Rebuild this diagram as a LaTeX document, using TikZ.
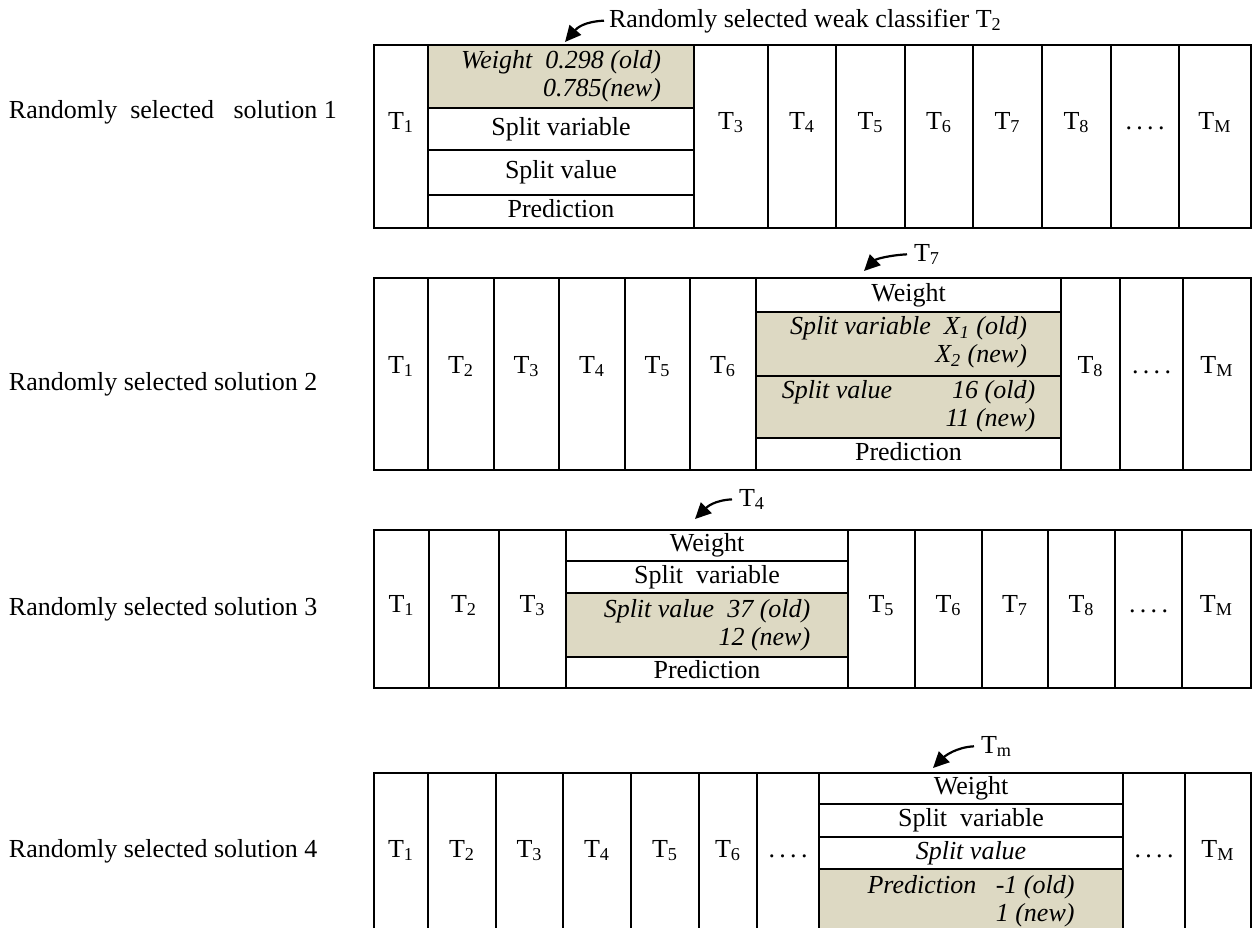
\documentclass[tikz,border=0pt]{standalone}
\usepackage{fontspec}
\setmainfont{Liberation Serif}
\usetikzlibrary{arrows.meta}
\definecolor{changed}{HTML}{DDD9C3}
\newcommand{\fourdots}{.\,.\,.\,.}

\begin{document}
\begin{tikzpicture}[x=0.5pt, y=-0.5pt, line width=1pt,
    font=\fontsize{13}{14}\selectfont]
  \useasboundingbox (0,0) rectangle (1252,928);
  \def\X{374}    % left edge of every row of trees
  \def\R{1251}   % right edge
  \tikzset{
    cell/.style={text height=9pt, text depth=3pt, inner sep=0pt},
    oldnew/.style={align=right, inner sep=0pt,
                   font=\fontsize{13}{14}\selectfont\itshape},
    solname/.style={anchor=base west, inner sep=0pt},
    pickname/.style={anchor=base west, inner sep=0pt},
    pick/.style={-{Triangle[length=8pt,width=7.5pt]}, line width=1.1pt}}

  % ========== SOLUTION 1: T2 picked, its weight changed ==========
  \node[solname] (sol1) at (8,118) {Randomly\ \ selected\ \ \ solution 1};
  \fill[changed] (428,45) rectangle (694,108);
  \draw (\X,45) rectangle (\R,228);
  \draw (428,45) -- (428,228);
  \foreach \l/\r/\t [count=\i] in {374/428/T\textsubscript{1},
      694/768/T\textsubscript{3}, 768/836/T\textsubscript{4},
      836/905/T\textsubscript{5}, 905/973/T\textsubscript{6},
      973/1042/T\textsubscript{7}, 1042/1111/T\textsubscript{8},
      1111/1179/\fourdots, 1179/1251/T\textsubscript{M}} {
    \draw (\l,45) -- (\l,228);
    \node[cell] (a\i) at ({(\l+\r)/2},123) {\t};
  }
  \foreach \y in {108,150,195} \draw (428,\y) -- (694,\y);
  \node[oldnew] (a2w) at (561,76.5) {Weight\ \ 0.298 (old)\\0.785(new)};
  \node[cell] (a2v) at (561,129)   {Split variable};
  \node[cell] (a2s) at (561,172.5) {Split value};
  \node[cell] (a2p) at (561,211.5) {Prediction};
  % the pointer
  \node[pickname] (pick1) at (608,27) {Randomly selected weak classifier T\textsubscript{2}};
  \coordinate (tip1) at (565,42);
  \draw[pick] ([xshift=-2pt]pick1.west) .. controls +(-20,1) and +(12,-14) .. (tip1);

  % ========== SOLUTION 2: T7 picked, split variable and value ==========
  \node[solname] (sol2) at (8,390) {Randomly selected solution 2};
  \fill[changed] (756,312) rectangle (1061,438);
  \draw (\X,278) rectangle (\R,470);
  \draw (1061,278) -- (1061,470);
  \foreach \l/\r/\t [count=\i] in {374/428/T\textsubscript{1},
      428/494/T\textsubscript{2}, 494/559/T\textsubscript{3},
      559/625/T\textsubscript{4}, 625/690/T\textsubscript{5},
      690/756/T\textsubscript{6}, 1061/1120/T\textsubscript{8},
      1120/1183/\fourdots, 1183/1251/T\textsubscript{M}} {
    \draw (\r,278) -- (\r,470);
    \node[cell] (b\i) at ({(\l+\r)/2},367) {\t};
  }
  \foreach \y in {312,376,438} \draw (756,\y) -- (1061,\y);
  \node[cell]   (b7w) at (908.5,295) {Weight};
  \node[oldnew] (b7v) at (908.5,342) {Split variable\ \ X\textsubscript{1} (old)\\X\textsubscript{2} (new)};
  \node[oldnew] (b7s) at (908.5,406) {Split value\hspace{30pt}16 (old)\\11 (new)};
  \node[cell]   (b7p) at (908.5,454) {Prediction};
  \node[pickname] (pick2) at (913,261) {T\textsubscript{7}};
  \coordinate (tip2) at (864,271);
  \draw[pick] ([xshift=-3pt]pick2.west) .. controls +(-18,1) and +(12,-12) .. (tip2);

  % ========== SOLUTION 3: T4 picked, split value ==========
  \node[solname] (sol3) at (8,615) {Randomly selected solution 3};
  \fill[changed] (566,593) rectangle (848,657);
  \draw (\X,530) rectangle (\R,688);
  \draw (566,530) -- (566,688);
  \foreach \l/\r/\t [count=\i] in {374/429/T\textsubscript{1},
      429/499/T\textsubscript{2}, 499/566/T\textsubscript{3},
      848/915/T\textsubscript{5}, 915/982/T\textsubscript{6},
      982/1048/T\textsubscript{7}, 1048/1115/T\textsubscript{8},
      1115/1182/\fourdots, 1182/1251/T\textsubscript{M}} {
    \draw (\l,530) -- (\l,688);
    \node[cell] (c\i) at ({(\l+\r)/2},606) {\t};
  }
  \foreach \y in {561,593,657} \draw (566,\y) -- (848,\y);
  \node[cell]   (c4w) at (707,545.5) {Weight};
  \node[cell]   (c4v) at (707,577)   {Split\ \ variable};
  \node[oldnew] (c4s) at (707,625)   {Split value\ \ 37 (old)\\12 (new)};
  \node[cell]   (c4p) at (707,672.5) {Prediction};
  \node[pickname] (pick3) at (738,506) {T\textsubscript{4}};
  \coordinate (tip3) at (695,519);
  \draw[pick] ([xshift=-3pt]pick3.west) .. controls +(-18,1) and +(12,-12) .. (tip3);

  % ========== SOLUTION 4: Tm picked, prediction (runs off the page) ==========
  \node[solname] (sol4) at (8,857) {Randomly selected solution 4};
  \fill[changed] (819,869) rectangle (1123,928);
  \draw (\X,928) -- (\X,773) -- (\R,773) -- (\R,928);
  \draw (819,773) -- (819,928);
  \foreach \l/\r/\t [count=\i] in {374/428/T\textsubscript{1},
      428/496/T\textsubscript{2}, 496/563/T\textsubscript{3},
      563/631/T\textsubscript{4}, 631/699/T\textsubscript{5},
      699/757/T\textsubscript{6}, 757/819/\fourdots,
      1123/1185/\fourdots, 1185/1251/T\textsubscript{M}} {
    \draw (\l,773) -- (\l,928);
    \node[cell] (d\i) at ({(\l+\r)/2},851) {\t};
  }
  \foreach \y in {804,837,869} \draw (819,\y) -- (1123,\y);
  \node[cell]   (dmw) at (971,788.5) {Weight};
  \node[cell]   (dmv) at (971,820.5) {Split\ \ variable};
  \node[cell, font=\fontsize{13}{14}\selectfont\itshape] (dms) at (971,853) {Split value};
  \node[oldnew] (dmp) at (971,901)   {Prediction\ \ \ -1 (old)\\1 (new)};
  \node[pickname] (pick4) at (980,753) {T\textsubscript{m}};
  \coordinate (tip4) at (933,768);
  \draw[pick] ([xshift=-3pt]pick4.west) .. controls +(-18,1) and +(12,-12) .. (tip4);
\end{tikzpicture}
\end{document}
